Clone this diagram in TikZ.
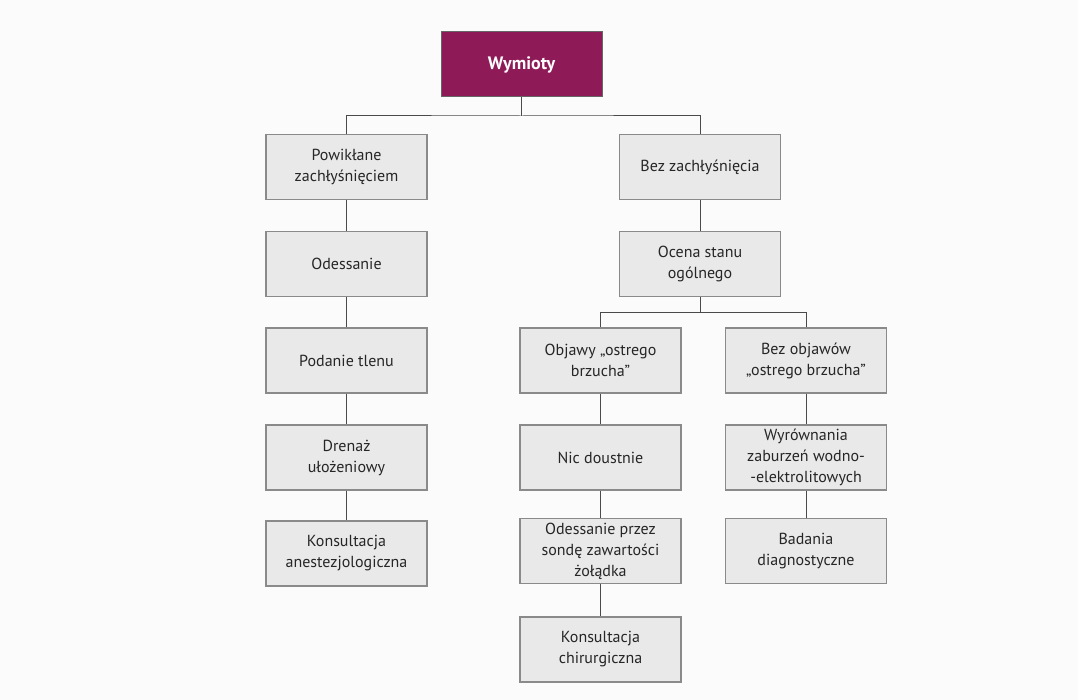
\documentclass[tikz,border=0pt]{standalone}
\usepackage{fontspec}
\setmainfont{PT Sans}
\definecolor{bg}{HTML}{FBFBFB}
\definecolor{boxfill}{HTML}{E9E9E9}
\definecolor{boxline}{HTML}{8A8A8A}
\definecolor{topfill}{HTML}{8E1B57}
\definecolor{conn}{HTML}{4A4A4A}
\begin{document}
\begin{tikzpicture}[x=1pt,y=-1pt,
  gbox/.style={draw=boxline,line width=1.2pt,fill=boxfill,minimum width=161pt,minimum height=65pt,
    align=center,inner sep=2pt,font=\fontsize{16}{21}\selectfont,text=black!85},
  tbox/.style={draw=black!60,line width=1pt,fill=topfill,minimum width=161pt,minimum height=65pt,
    align=center,font=\fontsize{18}{21}\selectfont\bfseries,text=white},
  conn/.style={draw=conn,line width=1pt}]
\fill[bg] (0,0) rectangle (1078,700);
\useasboundingbox (0,0) rectangle (1078,700);
% top
\node[tbox] (w) at (521.5,64.5) {Wymioty};
% left column
\node[gbox] (l1) at (346.5,167) {Powikłane\\zachłyśnięciem};
\node[gbox] (l2) at (346.5,264) {Odessanie};
\node[gbox] (l3) at (346.5,360.5) {Podanie tlenu};
\node[gbox] (l4) at (346.5,457.5) {Drenaż\\ułożeniowy};
\node[gbox] (l5) at (346.5,553.5) {Konsultacja\\anestezjologiczna};
% middle column
\node[gbox] (m1) at (700,167) {Bez zachłyśnięcia};
\node[gbox] (m2) at (700,264) {Ocena stanu\\ogólnego};
% objawy column
\node[gbox] (a1) at (600.5,360.5) {Objawy „ostrego\\brzucha”};
\node[gbox] (a2) at (600.5,457.5) {Nic doustnie};
\node[gbox] (a3) at (600.5,551) {Odessanie przez\\sondę zawartości\\żołądka};
\node[gbox] (a4) at (600.5,649.5) {Konsultacja\\chirurgiczna};
% bez objawow column
\node[gbox] (b1) at (806,360.5) {Bez objawów\\„ostrego brzucha”};
\node[gbox] (b2) at (806,457.5) {Wyrównania\\zaburzeń wodno-\\-elektrolitowych};
\node[gbox] (b3) at (806,551) {Badania\\diagnostyczne};
% connectors
\coordinate (j1) at (521.5,116);
\coordinate (j2) at (700,312.5);
\draw[conn] (w.south) -- (j1);
\draw[conn] (l1.north) |- (j1) -| (m1.north);
\draw[conn] (l1) -- (l2);
\draw[conn] (l2) -- (l3);
\draw[conn] (l3) -- (l4);
\draw[conn] (l4) -- (l5);
\draw[conn] (m1) -- (m2);
\draw[conn] (m2.south) -- (j2);
\draw[conn] (a1.north) |- (j2) -| (b1.north);
\draw[conn] (a1) -- (a2);
\draw[conn] (a2) -- (a3);
\draw[conn] (a3) -- (a4);
\draw[conn] (b1) -- (b2);
\draw[conn] (b2) -- (b3);
\end{tikzpicture}
\end{document}
